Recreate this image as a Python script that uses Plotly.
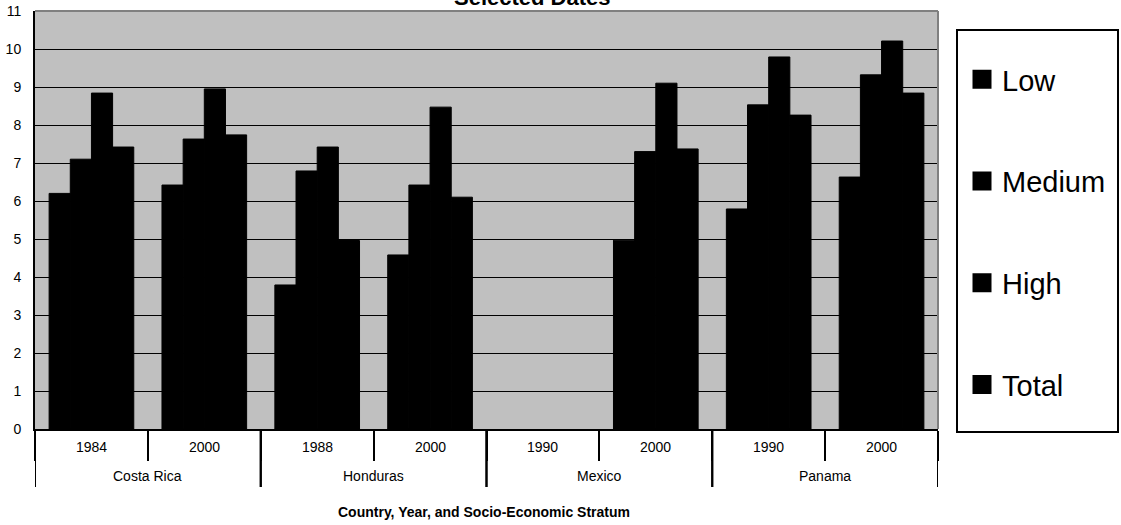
import plotly.graph_objects as go

# Categories: country (outer) and survey year (inner)
countries = ["Costa Rica", "Costa Rica", "Honduras", "Honduras",
             "Mexico", "Mexico", "Panama", "Panama"]
years = ["1984", "2000", "1988", "2000", "1990", "2000", "1990", "2000"]

# Values by socio-economic stratum (no data for Mexico 1990)
low = [6.2, 6.42, 3.79, 4.58, None, 4.97, 5.79, 6.63]
medium = [7.1, 7.63, 6.79, 6.42, None, 7.3, 8.53, 9.32]
high = [8.84, 8.95, 7.42, 8.47, None, 9.1, 9.79, 10.21]
total = [7.42, 7.74, 4.96, 6.1, None, 7.37, 8.26, 8.84]

series = [("Low", low), ("Medium", medium), ("High", high), ("Total", total)]

FONT = "Liberation Sans, Arial, sans-serif"

# one key per country/year pair keeps the category order fixed
keys = [f"{c} {y}" for c, y in zip(countries, years)]

# plot area in pixels (used to convert pixel offsets to paper units)
W, H = 1121, 525
ML, MR, MT, MB = 35, 183, 11, 96
PW, PH = W - ML - MR, H - MT - MB


def py(px):
    """paper y for a pixel row measured from the top of the page"""
    return (H - MB - px) / PH


def pxx(px):
    """paper x for a pixel column"""
    return (px - ML) / PW


fig = go.Figure()
for name, vals in series:
    fig.add_trace(go.Bar(
        x=keys, y=vals, name=name, showlegend=False,
        marker=dict(color="black", line=dict(color="black", width=1)),
    ))

# legend entries with larger square swatches
for name, _ in series:
    fig.add_trace(go.Scatter(
        x=[None], y=[None], mode="markers", name=name, legendgroup=name,
        marker=dict(symbol="square", size=16, color="black",
                    line=dict(color="black", width=3)),
    ))

fig.update_layout(
    width=W, height=H,
    margin=dict(l=ML, r=MR, t=MT, b=MB, autoexpand=False),
    paper_bgcolor="white",
    plot_bgcolor="#C0C0C0",
    barmode="group", bargap=0.25, bargroupgap=0,
    font=dict(family=FONT, color="black", size=14),
    showlegend=True,
    legend=dict(
        x=pxx(962), xanchor="left", y=py(54), yanchor="top",
        font=dict(size=29, family=FONT, color="black"),
        bgcolor="rgba(0,0,0,0)", borderwidth=0,
        tracegroupgap=61, itemclick=False, itemsizing="trace",
    ),
)

fig.update_xaxes(
    type="category", categoryorder="array", categoryarray=keys,
    range=[-0.5, len(keys) - 0.5], automargin=False,
    showline=True, linecolor="black", linewidth=2,
    ticks="outside", tickson="boundaries", ticklen=30,
    tickcolor="black", tickwidth=2,
    showticklabels=False, showgrid=False,
)

fig.update_yaxes(
    range=[0, 11], dtick=1, tick0=0, automargin=False,
    showgrid=True, gridcolor="black", gridwidth=1,
    showline=True, linecolor="black", linewidth=2,
    ticks="", ticklabelstandoff=9,
    tickfont=dict(size=14, family=FONT, color="black"),
    zeroline=False,
)

# Gray frame on the top and right of the plotting area
fig.add_shape(type="line", xref="paper", yref="paper", x0=0, x1=1, y0=1, y1=1,
              line=dict(color="#808080", width=2), layer="above")
fig.add_shape(type="line", xref="paper", yref="paper", x0=1, x1=1, y0=0, y1=1,
              line=dict(color="#808080", width=2), layer="above")

# Year labels under each category
for k, yr in zip(keys, years):
    fig.add_annotation(text=yr, x=k, xref="x", y=py(447), yref="paper",
                       yanchor="middle", showarrow=False,
                       font=dict(size=14, family=FONT, color="black"))

# Country labels and dividers spanning both label rows
groups = []
for i, c in enumerate(countries):
    if not groups or groups[-1][0] != c:
        groups.append([c, i, i])
    else:
        groups[-1][2] = i
for c, first, last in groups:
    fig.add_annotation(text=c, x=(first + last) / 2, xref="x",
                       y=py(476), yref="paper", yanchor="middle",
                       showarrow=False,
                       font=dict(size=14, family=FONT, color="black"))
    for edge in (first - 0.5, last + 0.5):
        fig.add_shape(type="line", xref="x", yref="paper",
                      x0=edge, x1=edge, y0=0, y1=py(487),
                      line=dict(color="black", width=2))

# Legend frame
fig.add_shape(type="rect", xref="paper", yref="paper",
              x0=pxx(957), x1=pxx(1118), y0=py(432), y1=py(30),
              line=dict(color="black", width=2), fillcolor="rgba(0,0,0,0)")

# Chart title
fig.add_annotation(text="<b>Selected Dates</b>", xref="paper", yref="paper",
                   x=pxx(532), y=1.0, yanchor="middle", yshift=14,
                   showarrow=False,
                   font=dict(size=22, family=FONT, color="black"))

# Axis title
fig.add_annotation(text="<b>Country, Year, and Socio-Economic Stratum</b>",
                   xref="paper", yref="paper", x=pxx(484), y=py(512),
                   yanchor="middle", showarrow=False,
                   font=dict(size=14, family=FONT, color="black"))

fig.write_html("out.html")
